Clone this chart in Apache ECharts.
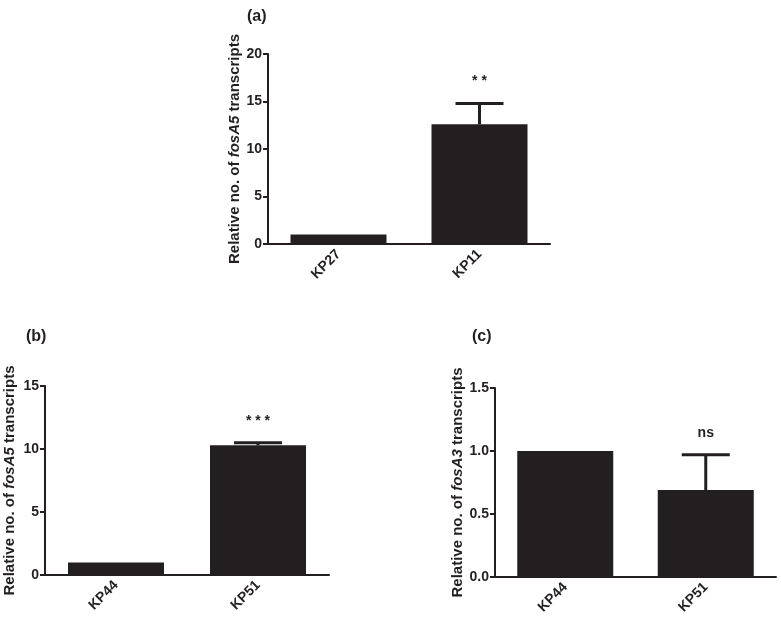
<!DOCTYPE html>
<html><head><meta charset="utf-8">
<script src="https://cdn.jsdelivr.net/npm/echarts@6/dist/echarts.min.js"></script>
<style>html,body{margin:0;padding:0;background:#fff}#c{width:781px;height:623px}</style>
</head><body><div id="c"></div>
<script>
// Panel (a)
const catsA = ['KP27', 'KP11'];
const valsA = [1.0, 12.6];
const errA = [0, 2.2];
const sigA = ['', '* *'];
const ticksA = [0, 5, 10, 15, 20];
// Panel (b)
const catsB = ['KP44', 'KP51'];
const valsB = [1.0, 10.3];
const errB = [0, 0.2];
const sigB = ['', '* * *'];
const ticksB = [0, 5, 10, 15];
// Panel (c)
const catsC = ['KP44', 'KP51'];
const valsC = [1.0, 0.69];
const errC = [0, 0.28];
const sigC = ['', 'ns'];
const ticksC = [0.0, 0.5, 1.0, 1.5];

const INK = '#231f20';
const FONT = '"Liberation Sans", Arial, sans-serif';

function errRender(errs, sigs) {
  return function (params, api) {
    const i = params.dataIndex;
    const v = api.value(1);
    const e = errs[i];
    const base = api.coord([api.value(0), v]);
    const top = api.coord([api.value(0), v + e]);
    const ch = [];
    if (e > 0) {
      ch.push({type: 'line', shape: {x1: base[0], y1: base[1], x2: top[0], y2: top[1]}, style: {stroke: INK, lineWidth: 3}});
      ch.push({type: 'line', shape: {x1: top[0] - 24, y1: top[1], x2: top[0] + 24, y2: top[1]}, style: {stroke: INK, lineWidth: 3}});
    }
    if (sigs[i]) {
      ch.push({type: 'text', x: top[0], y: top[1] - 22, style: {text: sigs[i], fill: INK, font: 'bold 14px ' + FONT, align: 'center', verticalAlign: 'middle'}});
    }
    return {type: 'group', children: ch};
  };
}

function yName(gene) {
  return '{n|Relative no. of }{i|' + gene + '}{n| transcripts}';
}
const nameRich = {
  n: {fontFamily: FONT, fontWeight: 'bold', fontSize: 15, color: INK},
  i: {fontFamily: FONT, fontWeight: 'bold', fontStyle: 'italic', fontSize: 15, color: INK}
};

function xAx(idx, cats) {
  return {
    type: 'category', gridIndex: idx, data: cats,
    axisLine: {lineStyle: {color: INK, width: 2}},
    axisTick: {alignWithLabel: true, length: 5, lineStyle: {color: INK, width: 2}},
    axisLabel: {rotate: 45, margin: 8, color: INK, fontFamily: FONT, fontWeight: 'bold', fontSize: 14}
  };
}
function yAx(idx, ticks, gene, gap, dec) {
  return {
    type: 'value', gridIndex: idx, min: ticks[0], max: ticks[ticks.length - 1],
    interval: ticks[1] - ticks[0],
    name: yName(gene), nameLocation: 'middle', nameRotate: 90, nameGap: gap,
    nameTextStyle: {rich: nameRich},
    splitLine: {show: false},
    axisLine: {show: true, lineStyle: {color: INK, width: 2}},
    axisTick: {show: true, length: 5, lineStyle: {color: INK, width: 2}},
    axisLabel: {margin: 6, color: INK, fontFamily: FONT, fontWeight: 'bold', fontSize: 14,
      formatter: v => v.toFixed(dec)}
  };
}

const chart = echarts.init(document.getElementById('c'), null, {renderer: 'canvas'});
chart.setOption({
  animation: false,
  backgroundColor: '#fff',
  title: [
    {text: '(a)', left: 242, top: 4, textStyle: {fontFamily: FONT, fontWeight: 'bold', fontSize: 16, color: INK}},
    {text: '(b)', left: 21, top: 324, textStyle: {fontFamily: FONT, fontWeight: 'bold', fontSize: 16, color: INK}},
    {text: '(c)', left: 467, top: 324, textStyle: {fontFamily: FONT, fontWeight: 'bold', fontSize: 16, color: INK}}
  ],
  grid: [
    {left: 268, right: 231, top: 54, bottom: 379},
    {left: 45, right: 452, top: 386, bottom: 48},
    {left: 495, right: 5, top: 388, bottom: 46}
  ],
  xAxis: [xAx(0, catsA), xAx(1, catsB), xAx(2, catsC)],
  yAxis: [yAx(0, ticksA, 'fosA5', 22, 0), yAx(1, ticksB, 'fosA5', 28, 0), yAx(2, ticksC, 'fosA3', 29, 1)],
  series: [
    {type: 'bar', xAxisIndex: 0, yAxisIndex: 0, data: valsA, barWidth: 96, itemStyle: {color: INK}},
    {type: 'bar', xAxisIndex: 1, yAxisIndex: 1, data: valsB, barWidth: 96, itemStyle: {color: INK}},
    {type: 'bar', xAxisIndex: 2, yAxisIndex: 2, data: valsC, barWidth: 96, itemStyle: {color: INK}},
    {type: 'custom', xAxisIndex: 0, yAxisIndex: 0, renderItem: errRender(errA, sigA), data: valsA.map((v, i) => [i, v]), z: 5},
    {type: 'custom', xAxisIndex: 1, yAxisIndex: 1, renderItem: errRender(errB, sigB), data: valsB.map((v, i) => [i, v]), z: 5},
    {type: 'custom', xAxisIndex: 2, yAxisIndex: 2, renderItem: errRender(errC, sigC), data: valsC.map((v, i) => [i, v]), z: 5}
  ]
});
</script></body></html>
